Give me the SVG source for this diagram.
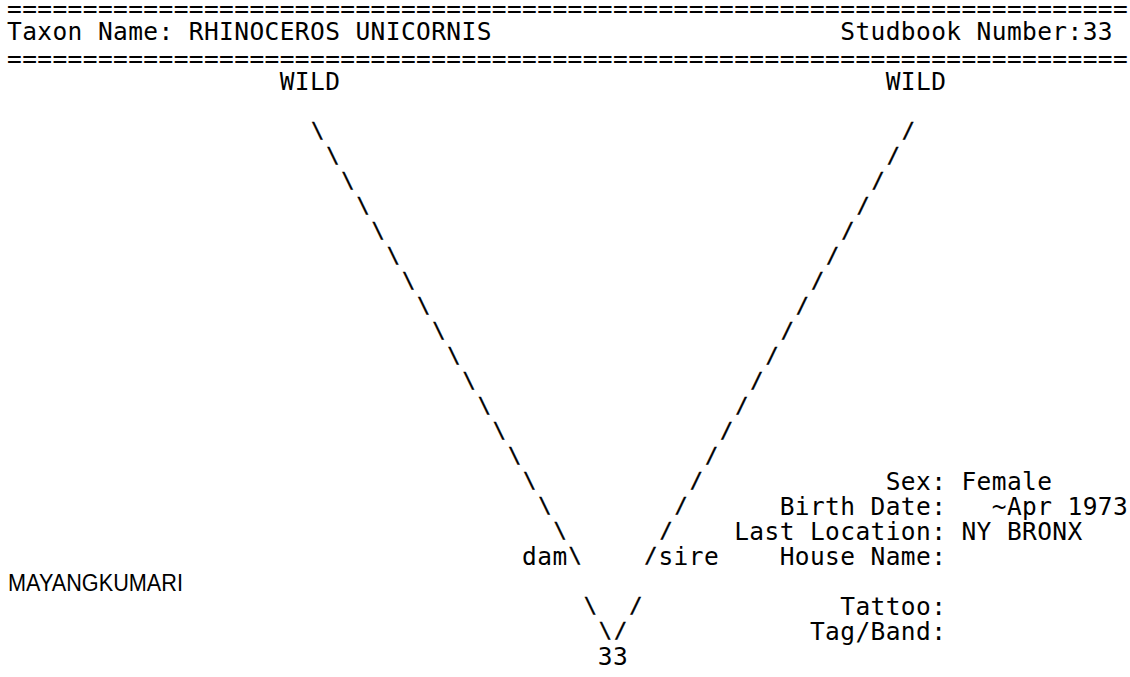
<svg xmlns="http://www.w3.org/2000/svg" width="1130" height="677" viewBox="0 0 1130 677">
  <style>
    /* fixed-pitch report text: 15.15px per column, 25px per row */
    .t { font-family: "DejaVu Sans Mono", monospace; font-size: 24.5px; letter-spacing: 0.4px; fill: #000; white-space: pre; }
    /* slash characters of the pedigree lines, sized to one row of ink */
    .s { font-family: "DejaVu Sans Mono", monospace; font-size: 22px; fill: #000; stroke: #000; stroke-width: 0.35px; }
    .p { font-family: "Liberation Sans", Arial, sans-serif; font-size: 23.5px; fill: #000; }
  </style>
  <rect width="1130" height="677" fill="#fff"/>

  <!-- report header -->
  <g id="header">
    <text class="t" x="7" y="17">==========================================================================</text>
    <text class="t" x="7" y="40">Taxon Name: RHINOCEROS UNICORNIS</text>
    <text class="t" x="840.25" y="40">Studbook Number:33</text>
    <text class="t" x="7" y="67">==========================================================================</text>
  </g>

  <!-- parents -->
  <g id="dam-parent">
    <text class="t" x="279.7" y="90">WILD</text>
  </g>
  <g id="sire-parent">
    <text class="t" x="885.7" y="90">WILD</text>
  </g>

  <!-- pedigree lines drawn with slash characters, one per row -->
  <g id="connectors">
    <text class="s" x="311" y="138">\</text>
    <text class="s" x="326.15" y="163">\</text>
    <text class="s" x="341.3" y="188">\</text>
    <text class="s" x="356.45" y="213">\</text>
    <text class="s" x="371.6" y="238">\</text>
    <text class="s" x="386.75" y="263">\</text>
    <text class="s" x="401.9" y="288">\</text>
    <text class="s" x="417.05" y="313">\</text>
    <text class="s" x="432.2" y="338">\</text>
    <text class="s" x="447.35" y="363">\</text>
    <text class="s" x="462.5" y="388">\</text>
    <text class="s" x="477.65" y="413">\</text>
    <text class="s" x="492.8" y="438">\</text>
    <text class="s" x="507.95" y="463">\</text>
    <text class="s" x="523.1" y="488">\</text>
    <text class="s" x="538.25" y="513">\</text>
    <text class="s" x="553.4" y="538">\</text>

    <text class="s" x="901.85" y="138">/</text>
    <text class="s" x="886.7" y="163">/</text>
    <text class="s" x="871.55" y="188">/</text>
    <text class="s" x="856.4" y="213">/</text>
    <text class="s" x="841.25" y="238">/</text>
    <text class="s" x="826.1" y="263">/</text>
    <text class="s" x="810.95" y="288">/</text>
    <text class="s" x="795.8" y="313">/</text>
    <text class="s" x="780.65" y="338">/</text>
    <text class="s" x="765.5" y="363">/</text>
    <text class="s" x="750.35" y="388">/</text>
    <text class="s" x="735.2" y="413">/</text>
    <text class="s" x="720.05" y="438">/</text>
    <text class="s" x="704.9" y="463">/</text>
    <text class="s" x="689.75" y="488">/</text>
    <text class="s" x="674.6" y="513">/</text>
    <text class="s" x="659.45" y="538">/</text>

    <text class="t" x="522.1" y="565">dam</text>
    <text class="s" x="568.55" y="563">\</text>
    <text class="s" x="644.3" y="563">/</text>
    <text class="t" x="658.45" y="565">sire</text>

    <text class="s" x="583.7" y="613">\</text>
    <text class="s" x="629.15" y="613">/</text>
    <text class="s" x="598.85" y="638">\</text>
    <text class="s" x="614" y="638">/</text>
  </g>

  <!-- the animal itself -->
  <g id="animal-33">
    <text class="t" x="597.85" y="665">33</text>
  </g>

  <!-- animal details -->
  <g id="details">
    <text class="t" x="885.7" y="490">Sex:</text>
    <text class="t" x="961.45" y="490">Female</text>
    <text class="t" x="779.65" y="515">Birth Date:</text>
    <text class="t" x="991.75" y="515">~Apr 1973</text>
    <text class="t" x="734.2" y="540">Last Location:</text>
    <text class="t" x="961.45" y="540">NY BRONX</text>
    <text class="t" x="779.65" y="565">House Name:</text>
    <text class="p" x="8" y="591" textLength="175" lengthAdjust="spacingAndGlyphs">MAYANGKUMARI</text>
    <text class="t" x="840.25" y="615">Tattoo:</text>
    <text class="t" x="809.95" y="640">Tag/Band:</text>
  </g>
</svg>
